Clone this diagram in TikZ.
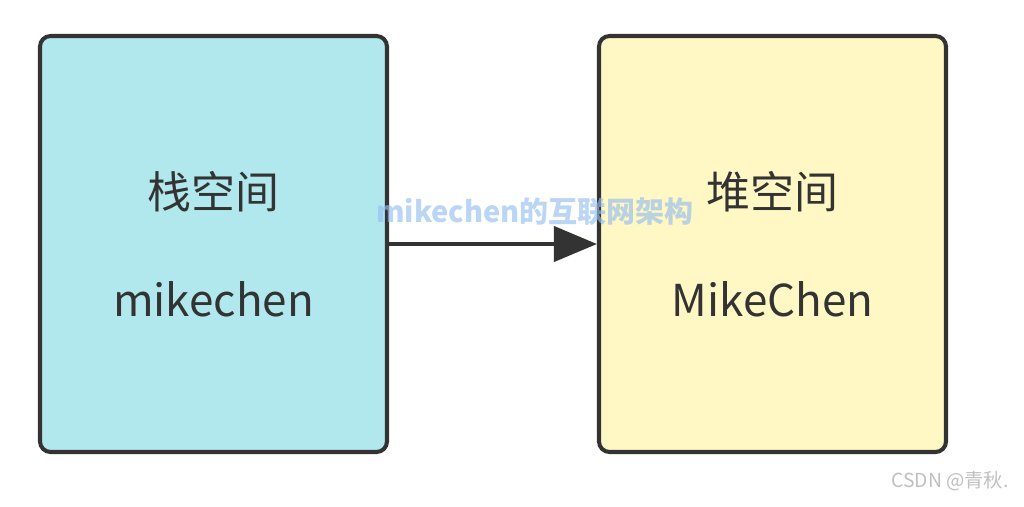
\documentclass[tikz,border=0pt]{standalone}
\usepackage{fontspec}
\setmainfont{Noto Sans CJK SC}
\usepackage{tikz}
\usetikzlibrary{arrows.meta,positioning}
\definecolor{stackCyan}{RGB}{176,232,238}
\definecolor{heapYellow}{RGB}{255,248,196}
\definecolor{edgeGray}{RGB}{51,51,51}
\definecolor{markBlue}{RGB}{150,190,240}

\begin{document}
\begin{tikzpicture}[
    membox/.style={draw=edgeGray, line width=2.3pt, rounded corners=6pt,
                   minimum width=6.94cm, minimum height=8.32cm,
                   align=center, font=\fontsize{25}{30}\selectfont, text=edgeGray}]
  \useasboundingbox (0,0) rectangle (20.48,-10.12);
  \node[membox, fill=stackCyan] (stack) at (4.27,-4.88) {栈空间\\[1.1cm]mikechen};
  \node[membox, fill=heapYellow] (heap) at (15.45,-4.88) {堆空间\\[1.1cm]MikeChen};
  \draw[-{Triangle[length=0.86cm,width=0.7cm]}, line width=2.3pt, edgeGray]
    (stack) -- (heap);
  % watermarks
  \node[font=\fontsize{16.5}{18}\selectfont\bfseries, text=markBlue, opacity=0.65]
    (mark) at (10.7,-4.24) {mikechen的互联网架构};
  \node[font=\fontsize{11}{13}\selectfont, text=gray!50] (csdn) at (19.0,-9.62) {CSDN @青秋.};
\end{tikzpicture}
\end{document}
